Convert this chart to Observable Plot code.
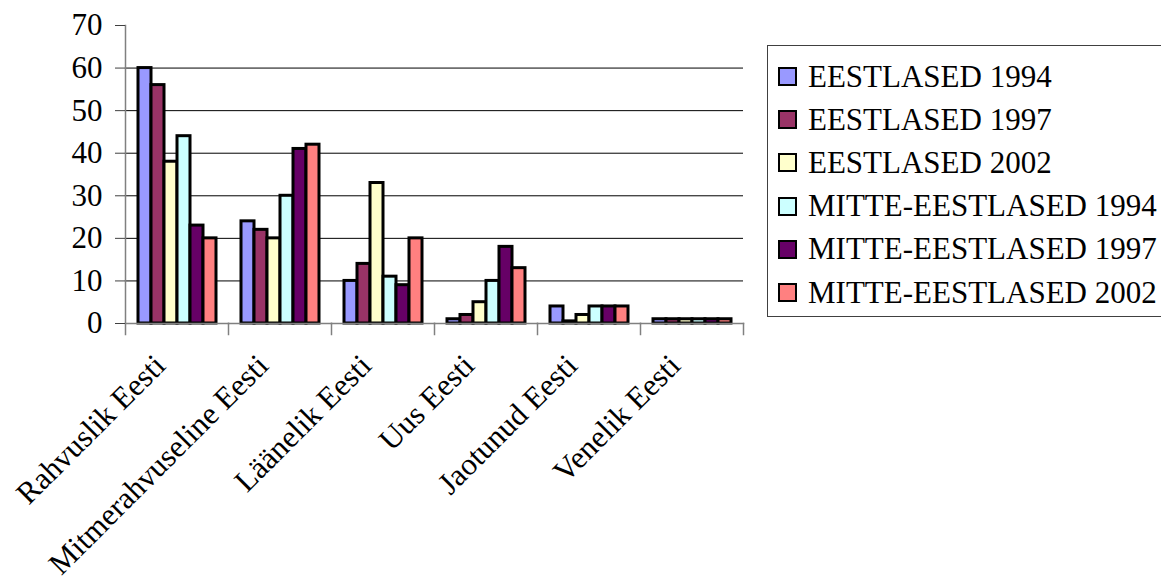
<!DOCTYPE html>
<html>
<head>
<meta charset="utf-8">
<script src="https://cdn.jsdelivr.net/npm/d3@7"></script>
<script src="https://cdn.jsdelivr.net/npm/@observablehq/plot@0.6"></script>
<style>
  html, body { margin: 0; padding: 0; background: #fff; }
  #wrap { position: relative; width: 1161px; height: 582px; overflow: hidden; }
  #legend {
    position: absolute; left: 767px; top: 45px; width: 400px; height: 272px;
    border: 1px solid #404040; box-sizing: border-box; background: #fff;
    font-family: "Liberation Serif", "Times New Roman", serif; font-size: 31px; color: #000;
    padding-top: 9px;
  }
  .row { height: 43.2px; display: flex; align-items: center; white-space: nowrap; }
  .sw { width: 15px; height: 15px; border: 2px solid #000; margin-left: 10px; margin-right: 11px; flex: none; }
</style>
</head>
<body>
<div id="wrap"><div id="chart"></div><div id="legend"></div></div>
<script>
const categories = ["Rahvuslik Eesti", "Mitmerahvuseline Eesti", "Läänelik Eesti", "Uus Eesti", "Jaotunud Eesti", "Venelik Eesti"];
const seriesNames = ["EESTLASED 1994", "EESTLASED 1997", "EESTLASED 2002", "MITTE-EESTLASED 1994", "MITTE-EESTLASED 1997", "MITTE-EESTLASED 2002"];
const seriesColors = ["#9999FF", "#993366", "#FFFFCC", "#CCFFFF", "#660066", "#FF8080"];
const eestlased1994 = [60, 24, 10, 1, 4, 1];
const eestlased1997 = [56, 22, 14, 2, 0.5, 1];
const eestlased2002 = [38, 20, 33, 5, 2, 1];
const mitteEestlased1994 = [44, 30, 11, 10, 4, 1];
const mitteEestlased1997 = [23, 41, 9, 18, 4, 1];
const mitteEestlased2002 = [20, 42, 20, 13, 4, 1];
const yTicks = [0, 10, 20, 30, 40, 50, 60, 70];
const gridTicks = [10, 20, 30, 40, 50, 60];

const seriesValues = [eestlased1994, eestlased1997, eestlased2002, mitteEestlased1994, mitteEestlased1997, mitteEestlased2002];
const rows = [];
seriesNames.forEach((s, i) => categories.forEach((c, j) => rows.push({category: c, series: s, value: seriesValues[i][j]})));

const font = "Liberation Serif, Times New Roman, serif";
const chart = Plot.plot({
  width: 1161,
  height: 582,
  marginLeft: 123,
  marginRight: 417,
  marginTop: 25,
  marginBottom: 259,
  style: {fontFamily: font, fontSize: "30px", color: "#000", background: "#fff"},
  fx: {domain: categories, padding: 0, axis: null, label: null},
  x: {domain: seriesNames, paddingInner: 0, paddingOuter: 0.7, axis: null, label: null},
  y: {domain: [0, 70], axis: null, label: null},
  color: {domain: seriesNames, range: seriesColors},
  marks: [
    Plot.gridY(gridTicks, {stroke: "#000", strokeOpacity: 1, strokeWidth: 1}),
    Plot.barY(rows, {fx: "category", x: "series", y: "value", fill: "series", stroke: "#000", strokeWidth: 3}),
    Plot.frame({anchor: "bottom", stroke: "#808080", strokeWidth: 1.5}),
    Plot.frame({anchor: "right", insetTop: 298, insetBottom: -11, stroke: "#808080", strokeWidth: 1.5}),
    Plot.frame({anchor: "left", facet: "super", insetBottom: -11, stroke: "#808080", strokeWidth: 1.5}),
    Plot.axisY({ticks: yTicks, tickSize: 10, tickPadding: 13, label: null, stroke: "#404040", fill: "#000", fontSize: 31, fontFamily: font}),
    Plot.text(categories, {fx: d => d, text: d => d, frameAnchor: "bottom", rotate: -45, textAnchor: "end", lineAnchor: "middle", dy: 37, dx: -17, fontSize: 31, fontFamily: font, fill: "#000"})
  ]
});
document.getElementById("chart").appendChild(chart);

const legend = document.getElementById("legend");
seriesNames.forEach((s, i) => {
  const row = document.createElement("div");
  row.className = "row";
  const sw = document.createElement("span");
  sw.className = "sw";
  sw.style.background = seriesColors[i];
  const t = document.createElement("span");
  t.textContent = s;
  row.appendChild(sw);
  row.appendChild(t);
  legend.appendChild(row);
});
</script>
</body>
</html>
